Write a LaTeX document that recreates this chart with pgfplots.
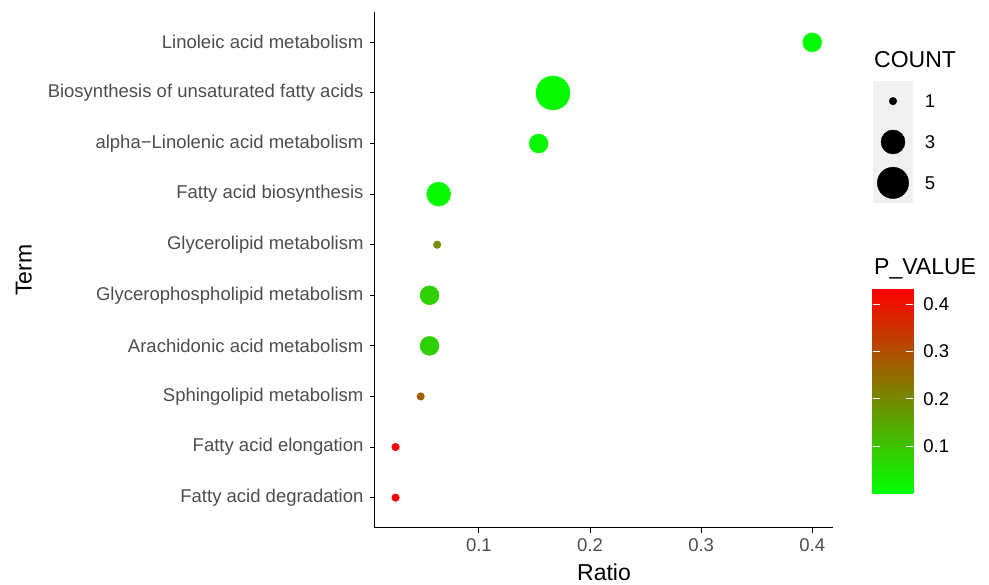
\documentclass[border=0pt]{standalone}
\usepackage{pgfplots}
\pgfplotsset{compat=1.18}
\usepackage{fontspec}
\setmainfont{Liberation Sans}
\usetikzlibrary{calc}
\definecolor{axtext}{HTML}{4D4D4D}
\newcommand{\ticksize}{\fontsize{18.5}{22}\selectfont}
\newcommand{\titlesize}{\fontsize{23}{27}\selectfont}

% ratio, row, marker radius (from COUNT), p value
\pgfplotstableread{
x       y   r     p
0.4000  10  9.5   0.004
0.1667  9   17.0  0.008
0.1538  8   9.5   0.012
0.0638  7   12.0  0.010
0.0625  6   3.8   0.195
0.0556  5   9.5   0.080
0.0556  4   9.5   0.080
0.0476  3   3.8   0.270
0.0250  2   3.8   0.434
0.0250  1   3.8   0.434
}\terms

\begin{document}
\begin{tikzpicture}
\path[use as bounding box] (0,0) rectangle (989pt,585pt);

\begin{axis}[
    at={(375pt,57pt)}, anchor=south west,
    scale only axis, width=458pt, height=516pt,
    xmin=0.0065, xmax=0.4187, ymin=0.4, ymax=10.6,
    axis x line*=bottom, axis y line*=left,
    axis line style={black, line width=1pt},
    tick align=outside, major tick length=5pt,
    tick style={black, line width=1pt},
    xtick={0.1,0.2,0.3,0.4},
    ytick={1,...,10},
    yticklabels={Fatty acid degradation, Fatty acid elongation, Sphingolipid metabolism,
      Arachidonic acid metabolism, Glycerophospholipid metabolism, Glycerolipid metabolism,
      Fatty acid biosynthesis, alpha−Linolenic acid metabolism,
      Biosynthesis of unsaturated fatty acids, Linoleic acid metabolism},
    /pgf/number format/assume math mode=true,
    ticklabel style={font=\ticksize, text=axtext},
    yticklabel style={xshift=-3pt},
    xticklabel style={yshift=-2pt},
    xlabel={Ratio}, ylabel={Term},
    label style={font=\titlesize},
    xlabel style={at={(axis description cs:0.5,0)}, anchor=base, yshift=-53pt},
    ylabel style={at={(axis description cs:-0.7496,0.5)}, anchor=base},
    clip=false,
    colormap={pv}{rgb255=(0,255,0) rgb255=(255,0,0)},
    point meta min=0, point meta max=0.434,
    colorbar,
    colorbar/width=40.6pt,
    colorbar style={
        at={($(parent axis.south east)+(31.2pt,239.7pt)$)}, anchor=north west,
        scale only axis, width=40.6pt, height=205pt,
        axis line style={draw=none},
        ytick={0.1,0.2,0.3,0.4},
        ytick pos=both, yticklabel pos=right,
        tick align=inside, major tick length=7pt,
        ytick style={white, line width=0.8pt},
        yticklabel style={font=\ticksize, text=black, xshift=6.5pt},
        /pgf/number format/assume math mode=true,
    },
]
\addplot[scatter, only marks, mark=*, scatter src=explicit,
    scatter/use mapped color={draw=mapped color, fill=mapped color},
    visualization depends on={\thisrow{r}\as\rad},
    scatter/@pre marker code/.append style={/tikz/mark size=\rad pt}]
    table[x=x, y=y, meta=p] {\terms};
\end{axis}

% size legend
\begin{axis}[
    at={(872.7pt,381.7pt)}, anchor=south west,
    scale only axis, width=40.6pt, height=122.6pt,
    xmin=0, xmax=1, ymin=0, ymax=3,
    axis background/.style={fill=black!6},
    axis line style={draw=none},
    xtick=\empty, ytick={0.5,1.5,2.5}, yticklabels={5,3,1},
    yticklabel pos=right, major tick length=0pt, ytick style={draw=none},
    yticklabel style={font=\ticksize, text=black, xshift=8pt},
    clip=false,
]
\addplot[scatter, only marks, mark=*,
    scatter/use mapped color={draw=black, fill=black},
    visualization depends on={\thisrow{r}\as\rad},
    scatter/@pre marker code/.append style={/tikz/mark size=\rad pt}]
    table[x=x, y=y] {
x   y   r
0.5 2.5 3.8
0.5 1.5 12.0
0.5 0.5 15.7
};
\end{axis}

\node[anchor=base west, inner sep=0pt, font=\titlesize] at (874pt,517pt) {COUNT};
\node[anchor=base west, inner sep=0pt, font=\titlesize] at (874pt,310pt) {P\_VALUE};
\end{tikzpicture}
\end{document}
